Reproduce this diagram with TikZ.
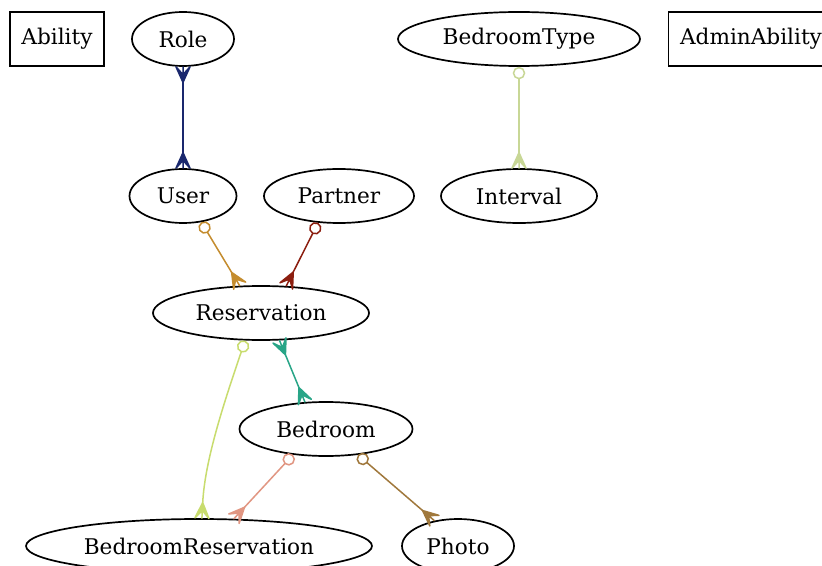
\documentclass[tikz,border=0pt]{standalone}
\usepackage{fontspec}
\setmainfont{DejaVu Serif}
\usetikzlibrary{arrows.meta,shapes.geometric}

% crow's foot tip: three prongs spreading out at the node boundary
\pgfdeclarearrow{
  name = Crow,
  parameters = {\the\pgfarrowlength,\the\pgfarrowwidth},
  setup code = {
    \pgfarrowssettipend{0pt}
    \pgfarrowssetlineend{-\pgfarrowlength}
    \pgfarrowssetbackend{-\pgfarrowlength}
    \pgfarrowssetvisualbackend{-\pgfarrowlength}
    \pgfarrowshullpoint{0pt}{.5\pgfarrowwidth}
    \pgfarrowshullpoint{0pt}{-.5\pgfarrowwidth}
    \pgfarrowshullpoint{-\pgfarrowlength}{0pt}
    \pgfarrowssavethe\pgfarrowlength
    \pgfarrowssavethe\pgfarrowwidth
  },
  drawing code = {
    \pgfsetdash{}{0pt}
    \pgfsetroundjoin
    \pgfpathmoveto{\pgfqpoint{-\pgfarrowlength}{0pt}}
    \pgfpathlineto{\pgfqpoint{0pt}{.5\pgfarrowwidth}}
    \pgfpathlineto{\pgfqpoint{-.5\pgfarrowlength}{0pt}}
    \pgfpathlineto{\pgfqpoint{0pt}{0pt}}
    \pgfpathlineto{\pgfqpoint{-.5\pgfarrowlength}{0pt}}
    \pgfpathlineto{\pgfqpoint{0pt}{-.5\pgfarrowwidth}}
    \pgfpathclose
    \pgfusepathqfillstroke
  },
  defaults = {length=15.5bp, width=14bp}
}

\definecolor{cNavy}{RGB}{26,40,110}
\definecolor{cGold}{RGB}{196,140,46}
\definecolor{cRust}{RGB}{140,30,15}
\definecolor{cTeal}{RGB}{40,165,135}
\definecolor{cLime}{RGB}{200,220,110}
\definecolor{cSalmon}{RGB}{225,150,130}
\definecolor{cBrown}{RGB}{160,120,60}
\definecolor{cSage}{RGB}{200,215,150}

\tikzset{
  lbl/.style={font=\fontsize{21.7}{26}\selectfont, inner sep=0pt, line width=1.7bp},
  ent/.style={lbl, draw, ellipse, minimum height=54bp},
  tbl/.style={lbl, draw, rectangle, minimum height=54bp},
  rel/.style={line width=1.5bp},
  optmany/.style={rel, {Circle[open,length=12.5bp,width=12.5bp]}-{Crow}},
  manymany/.style={rel, {Crow}-{Crow}}
}

\begin{document}
\begin{tikzpicture}[x=1bp,y=-1bp]
  \useasboundingbox[fill=white] (0,0) rectangle (822,566);

  % entities
  \node[tbl, minimum width=94bp]  (Ability)      at (57,39)  {Ability};
  \node[ent, minimum width=102bp] (Role)         at (183,39) {Role};
  \node[ent, minimum width=242bp] (BedroomType)  at (519,39) {BedroomType};
  \node[tbl, minimum width=165bp] (AdminAbility) at (751,39) {AdminAbility};

  \node[ent, minimum width=107bp] (User)     at (183,196) {User};
  \node[ent, minimum width=150bp] (Partner)  at (339,196) {Partner};
  \node[ent, minimum width=156bp] (Interval) at (519,196) {Interval};

  \node[ent, minimum width=216bp] (Reservation) at (261,313) {Reservation};
  \node[ent, minimum width=173bp] (Bedroom)     at (326,429) {Bedroom};

  \node[ent, minimum width=346bp] (BedroomReservation) at (199,546) {BedroomReservation};
  \node[ent, minimum width=112bp] (Photo)              at (458,546) {Photo};

  % relations
  \draw[manymany, cNavy] (Role.south) -- (User.north);
  \draw[optmany, cSage] (BedroomType.south) -- (Interval.north);
  \draw[optmany, cGold] (User.305) -- (Reservation.128);
  \draw[optmany, cRust] (Partner.232) -- (Reservation.47);
  \draw[manymany, cTeal] (Reservation.304) -- (Bedroom.128);
  \draw[optmany, cLime] (Reservation.240)
    .. controls +(-20,59) and +(3,-59) .. (BedroomReservation.84);
  \draw[optmany, cSalmon] (Bedroom.218) -- (BedroomReservation.38);
  \draw[optmany, cBrown] (Bedroom.321) -- (Photo.133);
\end{tikzpicture}
\end{document}
